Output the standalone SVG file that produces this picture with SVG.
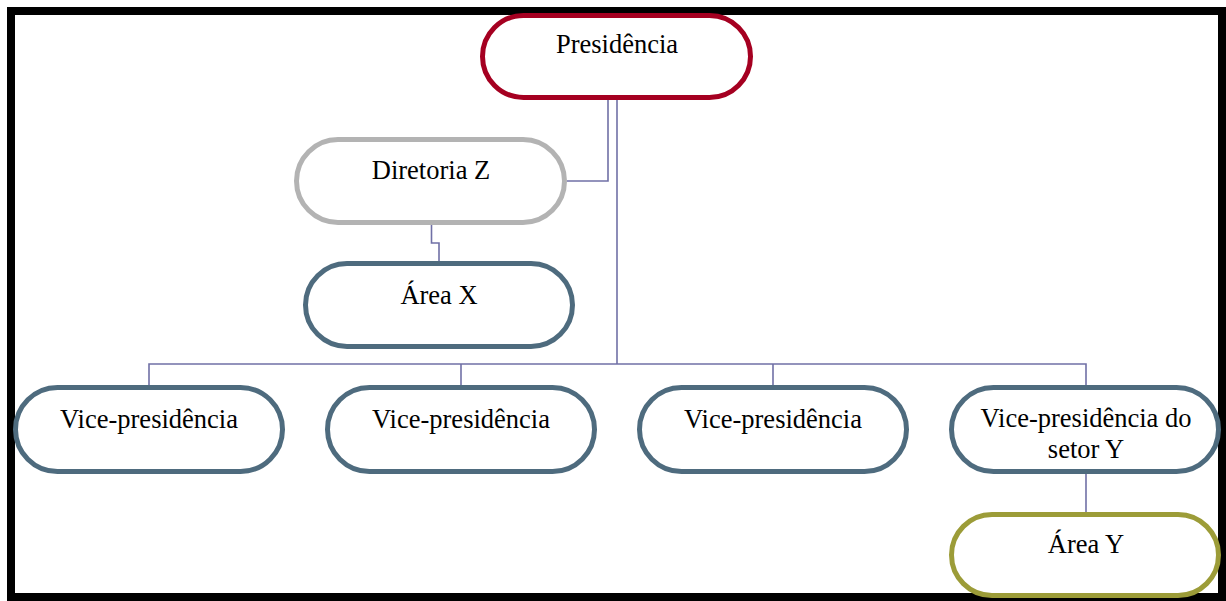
<svg xmlns="http://www.w3.org/2000/svg" width="1226" height="601" viewBox="0 0 1226 601">
<style>
.box{fill:#fff;stroke-width:5}
.blue{stroke:#4e6b7e}
.red{stroke:#a50021}
.grey{stroke:#b3b3b3}
.olive{stroke:#9c9c38}
.conn{fill:none;stroke:#7070a6;stroke-width:1.6}
text{font-family:"Liberation Serif","Times New Roman",serif;font-size:26.5px;fill:#000;text-anchor:middle}
</style>
<rect x="0" y="0" width="1226" height="601" fill="#fff"/>
<rect x="11" y="11" width="1211" height="586" fill="none" stroke="#000" stroke-width="8"/>
<g id="connectors">
<path class="conn" d="M608 98 V181 H567"/>
<path class="conn" d="M617 98 V364"/>
<path class="conn" d="M149 385 V364 H1086 V385"/>
<path class="conn" d="M461 364 V385"/>
<path class="conn" d="M773 364 V385"/>
<path class="conn" d="M431.5 224 V243 H439 V262"/>
<path class="conn" d="M1086 473 V513"/>
</g>
<g id="presidencia">
<rect class="box red" x="482.5" y="15.5" width="268" height="82" rx="41"/>
<text x="617" y="53">Presidência</text>
</g>
<g id="diretoria-z">
<rect class="box grey" x="296.5" y="139.5" width="268" height="83" rx="41.5"/>
<text x="431" y="179">Diretoria Z</text>
</g>
<g id="area-x">
<rect class="box blue" x="305.5" y="263.5" width="267" height="83" rx="41.5"/>
<text x="439" y="304">Área X</text>
</g>
<g id="vp1">
<rect class="box blue" x="15.5" y="387.5" width="267" height="84" rx="42"/>
<text x="149" y="428">Vice-presidência</text>
</g>
<g id="vp2">
<rect class="box blue" x="327.5" y="387.5" width="267" height="84" rx="42"/>
<text x="461" y="428">Vice-presidência</text>
</g>
<g id="vp3">
<rect class="box blue" x="639.5" y="387.5" width="267" height="84" rx="42"/>
<text x="773" y="428">Vice-presidência</text>
</g>
<g id="vp4">
<rect class="box blue" x="951.5" y="387.5" width="267" height="84" rx="42"/>
<text x="1086" y="427">Vice-presidência do</text>
<text x="1086" y="458">setor Y</text>
</g>
<g id="area-y">
<rect class="box olive" x="951.5" y="514.5" width="267" height="81" rx="40.5"/>
<text x="1086" y="553">Área Y</text>
</g>
</svg>
